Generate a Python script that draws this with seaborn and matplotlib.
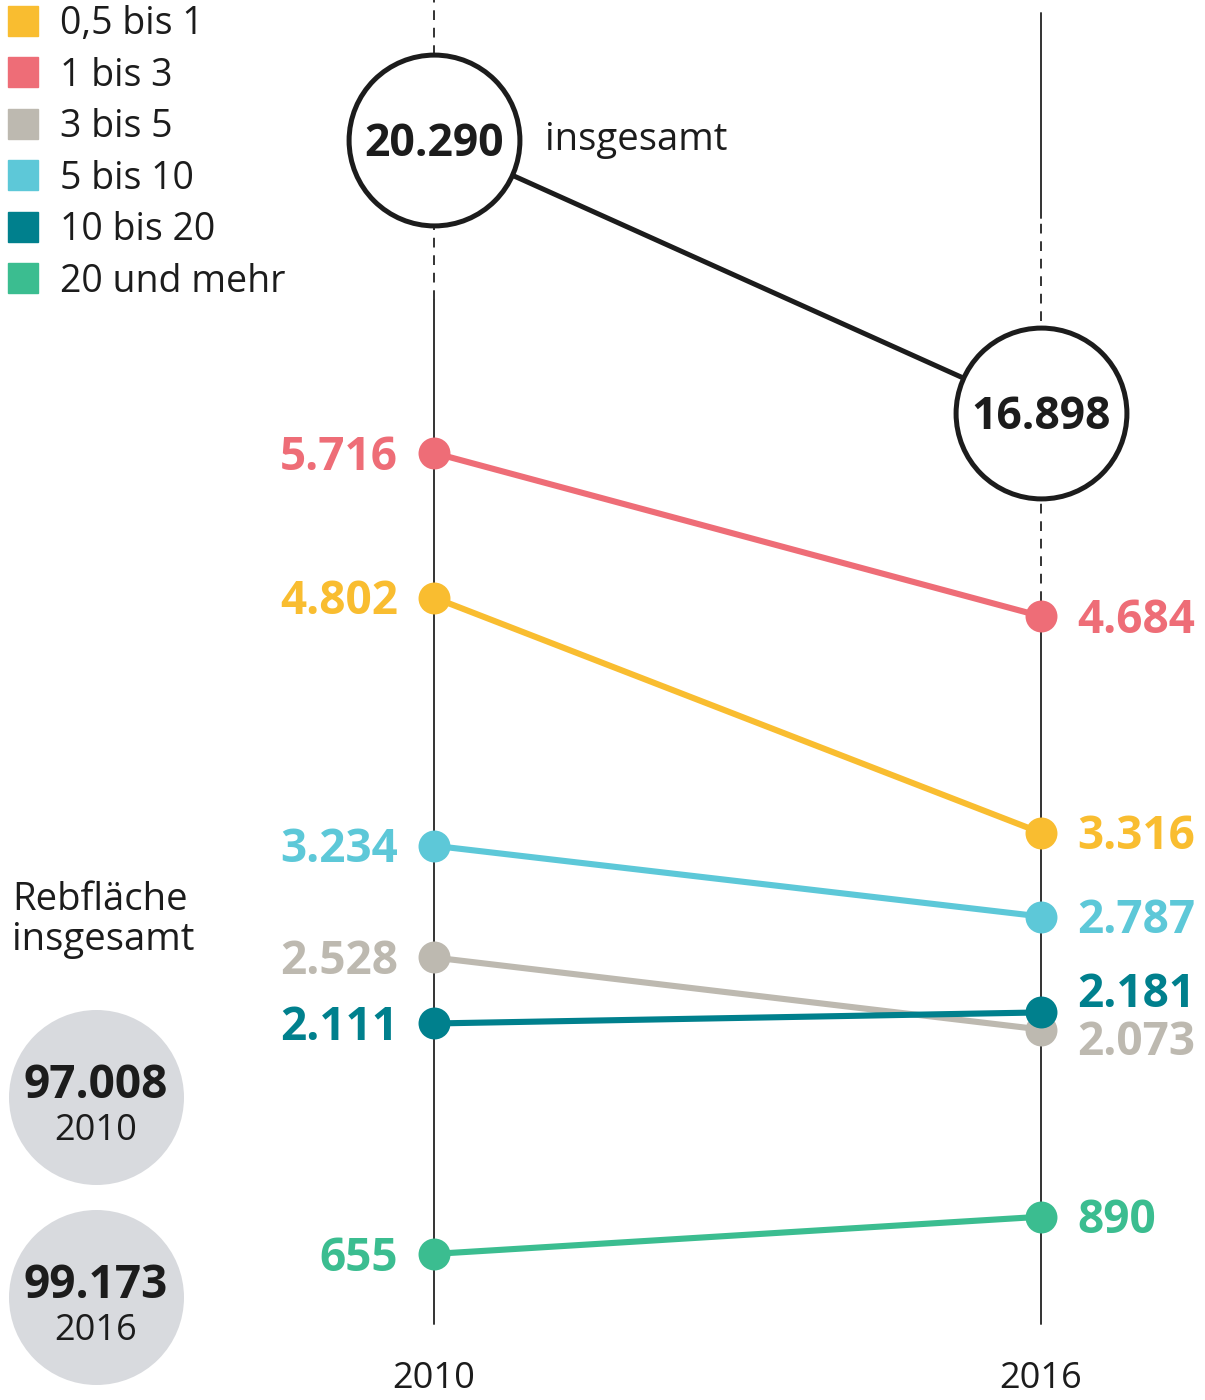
import pandas as pd
import matplotlib.pyplot as plt
import seaborn as sns
from matplotlib.lines import Line2D

# === data ===
years = [2010, 2016]
groups = ['0,5 bis 1', '1 bis 3', '3 bis 5', '5 bis 10', '10 bis 20', '20 und mehr']
values_2010 = [4802, 5716, 2528, 3234, 2111, 655]
values_2016 = [3316, 4684, 2073, 2787, 2181, 890]
totals = [20290, 16898]
area_years = ['2010', '2016']
area_total = [97008, 99173]

colors = ['#f9bd30', '#ee6d77', '#bdb9b0', '#5dc8d8', '#00808d', '#3bbd90']
palette = dict(zip(groups, colors))

# label nudges where values sit close together (points)
nudge = {('10 bis 20', 2016): 16, ('3 bis 5', 2016): -6}


def de(v):
    return f'{v:,}'.replace(',', '.')


df = pd.DataFrame({
    'group': groups * 2,
    'year': [years[0]] * len(groups) + [years[1]] * len(groups),
    'value': values_2010 + values_2016,
})
tot = pd.DataFrame({'year': years, 'value': totals})

sns.set_theme(style='white')
plt.rcParams['font.family'] = ['Open Sans', 'DejaVu Sans']
ink = '#1c1c1c'

fig = plt.figure(figsize=(12.05, 14), dpi=100)
ax = fig.add_axes([0, 0, 1, 1])
ax.set_xlim(2005.71, 2017.62)
ax.set_ylim(-268, 8578)
ax.axis('off')

# vertical guides
ax.axvline(2010, 0.786, 1.0, color='#333333', lw=1.4, ls=(0, (5, 4)), zorder=1)
ax.axvline(2010, 0.054, 0.786, color='#333333', lw=1.4, zorder=1)
ax.axvline(2016, 0.844, 0.991, color='#333333', lw=1.4, zorder=1)
ax.axvline(2016, 0.571, 0.844, color='#333333', lw=1.4, ls=(0, (5, 4)), zorder=1)
ax.axvline(2016, 0.054, 0.571, color='#333333', lw=1.4, zorder=1)

sns.lineplot(data=df, x='year', y='value', hue='group', hue_order=groups,
             palette=palette, marker='o', markersize=23, markeredgewidth=0,
             linewidth=4.4, legend=False, ax=ax, zorder=3)
ax.set_xlim(2005.71, 2017.62)
ax.set_ylim(-268, 8578)

for _, r in df.iterrows():
    left = r['year'] == years[0]
    dy = nudge.get((r['group'], r['year']), 0) - 3
    ax.annotate(de(r['value']), (r['year'], r['value']),
                xytext=(-26 if left else 26, dy), textcoords='offset points',
                ha='right' if left else 'left', va='center',
                fontsize=33, fontweight='bold', color=palette[r['group']])

# totals on their own scale
ax2 = ax.twinx()
ax2.set_ylim(4634, 22030)
ax2.axis('off')
sns.lineplot(data=tot, x='year', y='value', color=ink, linewidth=3.6, ax=ax2)
sns.scatterplot(data=tot, x='year', y='value', s=123 ** 2, color='white',
                edgecolor=ink, linewidth=3.6, ax=ax2, zorder=4)
ax2.set_ylim(4634, 22030)
for y, v in zip(years, totals):
    ax2.annotate(de(v), (y, v), xytext=(0, -3), textcoords='offset points',
                 ha='center', va='center', fontsize=32,
                 fontweight='bold', color=ink, zorder=5)
ax2.annotate('insgesamt', (years[0], totals[0]), xytext=(80, 0),
             textcoords='offset points', ha='left', va='center',
             fontsize=27.5, color=ink)

# year labels at the bottom
for y in years:
    ax.text(y, 0.015, str(y), transform=ax.get_xaxis_transform(),
            ha='center', va='center', fontsize=26, color=ink)

# legend
handles = [Line2D([], [], marker='s', ls='', ms=21.6, color=c) for c in colors]
ax.legend(handles, groups, loc='upper left', bbox_to_anchor=(0, 0.9964),
          bbox_transform=fig.transFigure, frameon=False, fontsize=27,
          borderpad=0, borderaxespad=0, handlelength=1.227,
          handletextpad=0.373, labelspacing=0.36, labelcolor=ink)

# total vineyard area
ax.text(0.01, 1 - 920 / 1400, 'Rebfläche\ninsgesamt', transform=ax.transAxes,
        ha='left', va='center', fontsize=27.5, color=ink, linespacing=1.1)
for i, (yr, a) in enumerate(zip(area_years, area_total)):
    cy = 1 - (1097 + 200 * i) / 1400
    ax.scatter([0.0797], [cy], s=126 ** 2, color='#d8dade', transform=ax.transAxes,
               zorder=2, linewidths=0)
    ax.text(0.0797, cy + 11 / 1400, de(a), transform=ax.transAxes, ha='center',
            va='center', fontsize=33, fontweight='bold', color=ink, zorder=3)
    ax.text(0.0797, cy - 34 / 1400, yr, transform=ax.transAxes, ha='center',
            va='center', fontsize=26, color=ink, zorder=3)

fig.savefig('out.png', dpi=100)
